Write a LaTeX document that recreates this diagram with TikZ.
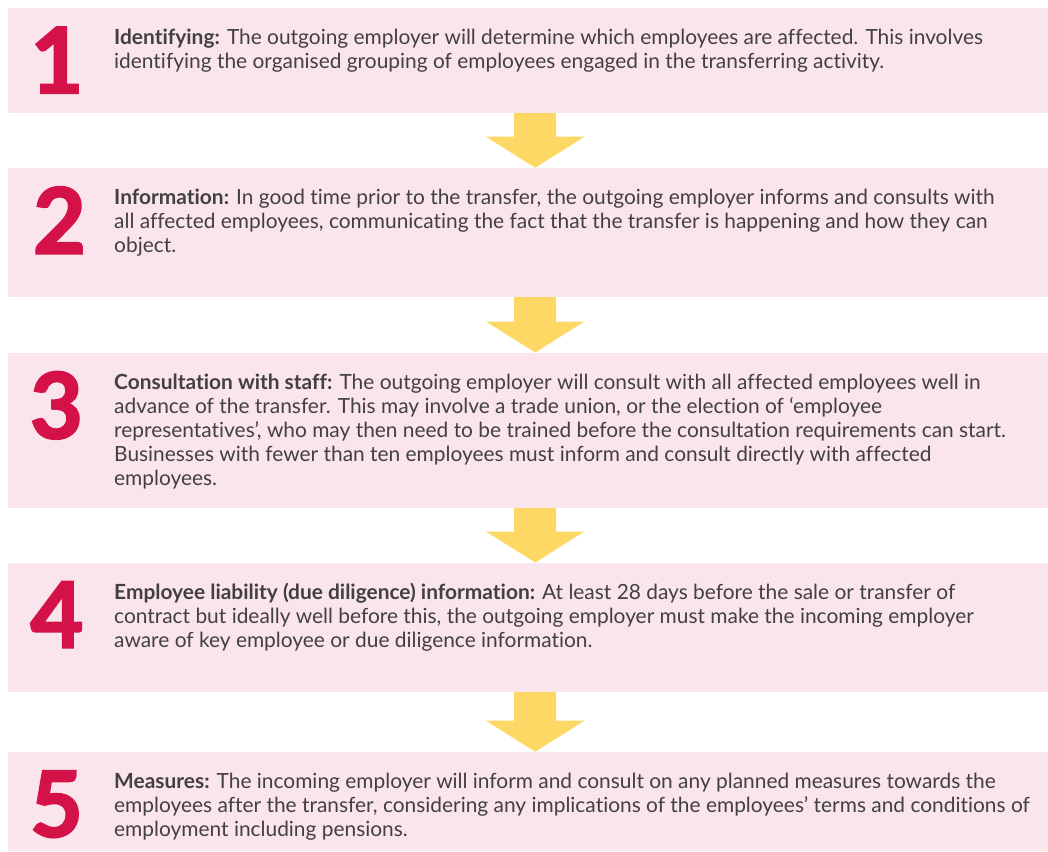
\documentclass[tikz,border=0pt]{standalone}
\usepackage{fontspec}
\setmainfont{Lato}[Ligatures=NoCommon]
\newfontfamily\numfont{Lato}[BoldFeatures={FakeBold=2.5}]
\usetikzlibrary{calc}
\definecolor{boxpink}{HTML}{FBE5EC}
\definecolor{arrowyellow}{HTML}{FDD865}
\definecolor{numred}{HTML}{D5114A}
\definecolor{textgray}{HTML}{414042}
\tikzset{
  stepbox/.style={rectangle, fill=boxpink, draw=none, inner sep=0pt, anchor=north west, minimum width=1040pt},
  stepnum/.style={anchor=north, inner sep=0pt, text depth=0pt, text=numred, font=\numfont\fontsize{91}{91}\selectfont\bfseries},
  stepline/.style={anchor=base west, inner sep=0pt, text=textgray, font=\fontsize{20.9}{24}\selectfont},
  flowarrow/.style={fill=arrowyellow, draw=none}
}
\newcommand\flowarr[2]{%
  \fill[flowarrow] ($(#1.south)+(-14,0)$) -- ($(#2.north)+(-14,-31)$) -- ($(#2.north)+(-42.3,-31)$)
    -- ($(#2.north)+(7,0)$) -- ($(#2.north)+(56.3,-31)$) -- ($(#2.north)+(28,-31)$)
    -- ($(#1.south)+(28,0)$) -- cycle;}
\begin{document}
\begin{tikzpicture}[x=1pt,y=-1pt]
\useasboundingbox (0,0) rectangle (1048,851);
% boxes
\node[stepbox, minimum height=104.7pt] (b1) at (8,8) {};
\node[stepbox, minimum height=129pt] (b2) at (8,167.7) {};
\node[stepbox, minimum height=155.2pt] (b3) at (8,352.5) {};
\node[stepbox, minimum height=129.2pt] (b4) at (8,562.5) {};
\node[stepbox, minimum height=99.3pt] (b5) at (8,751.7) {};
% arrows
\flowarr{b1}{b2}
\flowarr{b2}{b3}
\flowarr{b3}{b4}
\flowarr{b4}{b5}
% numbers
\node[stepnum] (n1) at (57,27) {1};
\node[stepnum] (n2) at (59.5,186.7) {2};
\node[stepnum] (n3) at (56.5,371.5) {3};
\node[stepnum] (n4) at (57,581.5) {4};
\node[stepnum] (n5) at (56.5,770.7) {5};
% texts box 1
\node[stepline] (t11) at (114,44.5) {\textbf{Identifying:} The outgoing employer will determine which employees are affected. This involves};
\node[stepline] (t12) at (114,68.5) {identifying the organised grouping of employees engaged in the transferring activity.};
% box 2
\node[stepline] (t21) at (114,204.3) {\textbf{Information:} In good time prior to the transfer, the outgoing employer informs and consults with};
\node[stepline] (t22) at (114,228.3) {all affected employees, communicating the fact that the transfer is happening and how they can};
\node[stepline] (t23) at (114,252.3) {object.};
% box 3
\node[stepline] (t31) at (114,389) {\textbf{Consultation with staff:} The outgoing employer will consult with all affected employees well in};
\node[stepline] (t32) at (114,413) {advance of the transfer. This may involve a trade union, or the election of ‘employee};
\node[stepline] (t33) at (114,437) {representatives’, who may then need to be trained before the consultation requirements can start.};
\node[stepline] (t34) at (114,461) {Businesses with fewer than ten employees must inform and consult directly with affected};
\node[stepline] (t35) at (114,485) {employees.};
% box 4
\node[stepline] (t41) at (114,599) {\textbf{Employee liability (due diligence) information:} At least 28 days before the sale or transfer of};
\node[stepline] (t42) at (114,623) {contract but ideally well before this, the outgoing employer must make the incoming employer};
\node[stepline] (t43) at (114,647) {aware of key employee or due diligence information.};
% box 5
\node[stepline] (t51) at (114,788.2) {\textbf{Measures:} The incoming employer will inform and consult on any planned measures towards the};
\node[stepline] (t52) at (114,812.2) {employees after the transfer, considering any implications of the employees’ terms and conditions of};
\node[stepline] (t53) at (114,836.2) {employment including pensions.};
\end{tikzpicture}
\end{document}
